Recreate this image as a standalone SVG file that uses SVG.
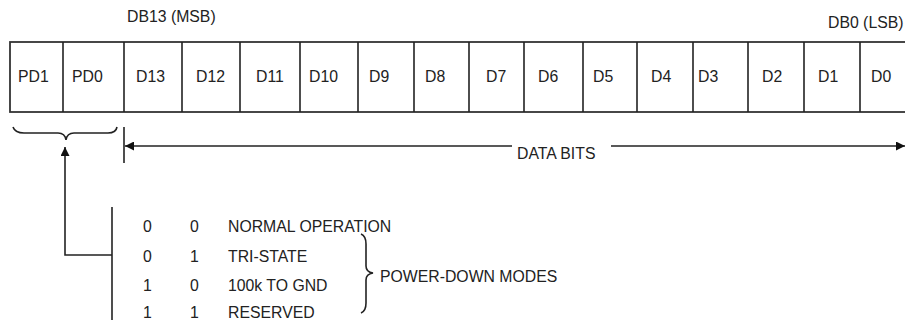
<svg xmlns="http://www.w3.org/2000/svg" width="905" height="322" viewBox="0 0 905 322">
<defs>
<style>
text{font-family:"Liberation Sans",Arial,sans-serif;font-size:15.8px;fill:#222}
.ln{stroke:#222;stroke-width:1.6;fill:none}
.cell{fill:#fff;stroke:#333;stroke-width:1.8}
</style>
<marker id="ah" viewBox="0 0 10 10" refX="10" refY="5" markerWidth="15" markerHeight="9" markerUnits="userSpaceOnUse" orient="auto">
<path d="M0,0L10,5L0,10z" fill="#111"/>
</marker>
</defs>
<rect width="905" height="322" fill="#fff"/>
<text x="127" y="22">DB13 (MSB)</text>
<text x="828" y="28">DB0 (LSB)</text>
<g id="register">
<rect class="cell" x="10" y="42" width="910" height="70"/>
<path class="ln" stroke-width="1.8" d="M63,42V112M124,42V112M182,42V112M240,42V112M300,42V112M358,42V112M414,42V112M469,42V112M524,42V112M583,42V112M637,42V112M693,42V112M748,42V112M804,42V112M860,42V112"/>
</g>
<g id="bits">
<text x="18" y="82">PD1</text>
<text x="72" y="82">PD0</text>
<text x="136" y="82">D13</text>
<text x="196" y="82">D12</text>
<text x="256" y="82">D11</text>
<text x="309" y="82">D10</text>
<text x="369" y="82">D9</text>
<text x="425" y="82">D8</text>
<text x="486" y="82">D7</text>
<text x="538" y="82">D6</text>
<text x="593" y="82">D5</text>
<text x="651" y="82">D4</text>
<text x="698" y="82">D3</text>
<text x="762" y="82">D2</text>
<text x="818" y="82">D1</text>
<text x="871" y="82">D0</text>
</g>
<g id="pd-brace">
<path class="ln" d="M13,127Q15,133 24,133H58Q65,133 66,140Q67,133 74,133H108Q116,133 117,127"/>
</g>
<g id="data-bits">
<text x="517" y="159">DATA BITS</text>
</g>
<g id="modes">
<text x="143" y="232">0</text><text x="190" y="232">0</text><text x="228" y="232">NORMAL OPERATION</text>
<text x="143" y="262">0</text><text x="190" y="262">1</text><text x="228" y="262">TRI-STATE</text>
<text x="143" y="291">1</text><text x="190" y="291">0</text><text x="228" y="291">100k TO GND</text>
<text x="143" y="318">1</text><text x="190" y="318">1</text><text x="228" y="318">RESERVED</text>
<path class="ln" d="M361,234Q366,236 366,244V266Q366,272 373,273Q366,274 366,280V303Q366,311 361,313"/>
<text x="380" y="282">POWER-DOWN MODES</text>
</g>
<g id="connectors">
<path class="ln" d="M124,127V163"/>
<path class="ln" d="M512,146H125" marker-end="url(#ah)"/>
<path class="ln" d="M611,146H905" marker-end="url(#ah)"/>
<path class="ln" d="M112,207V320"/>
<path class="ln" d="M112,255H65V147" marker-end="url(#ah)"/>
</g>
</svg>
